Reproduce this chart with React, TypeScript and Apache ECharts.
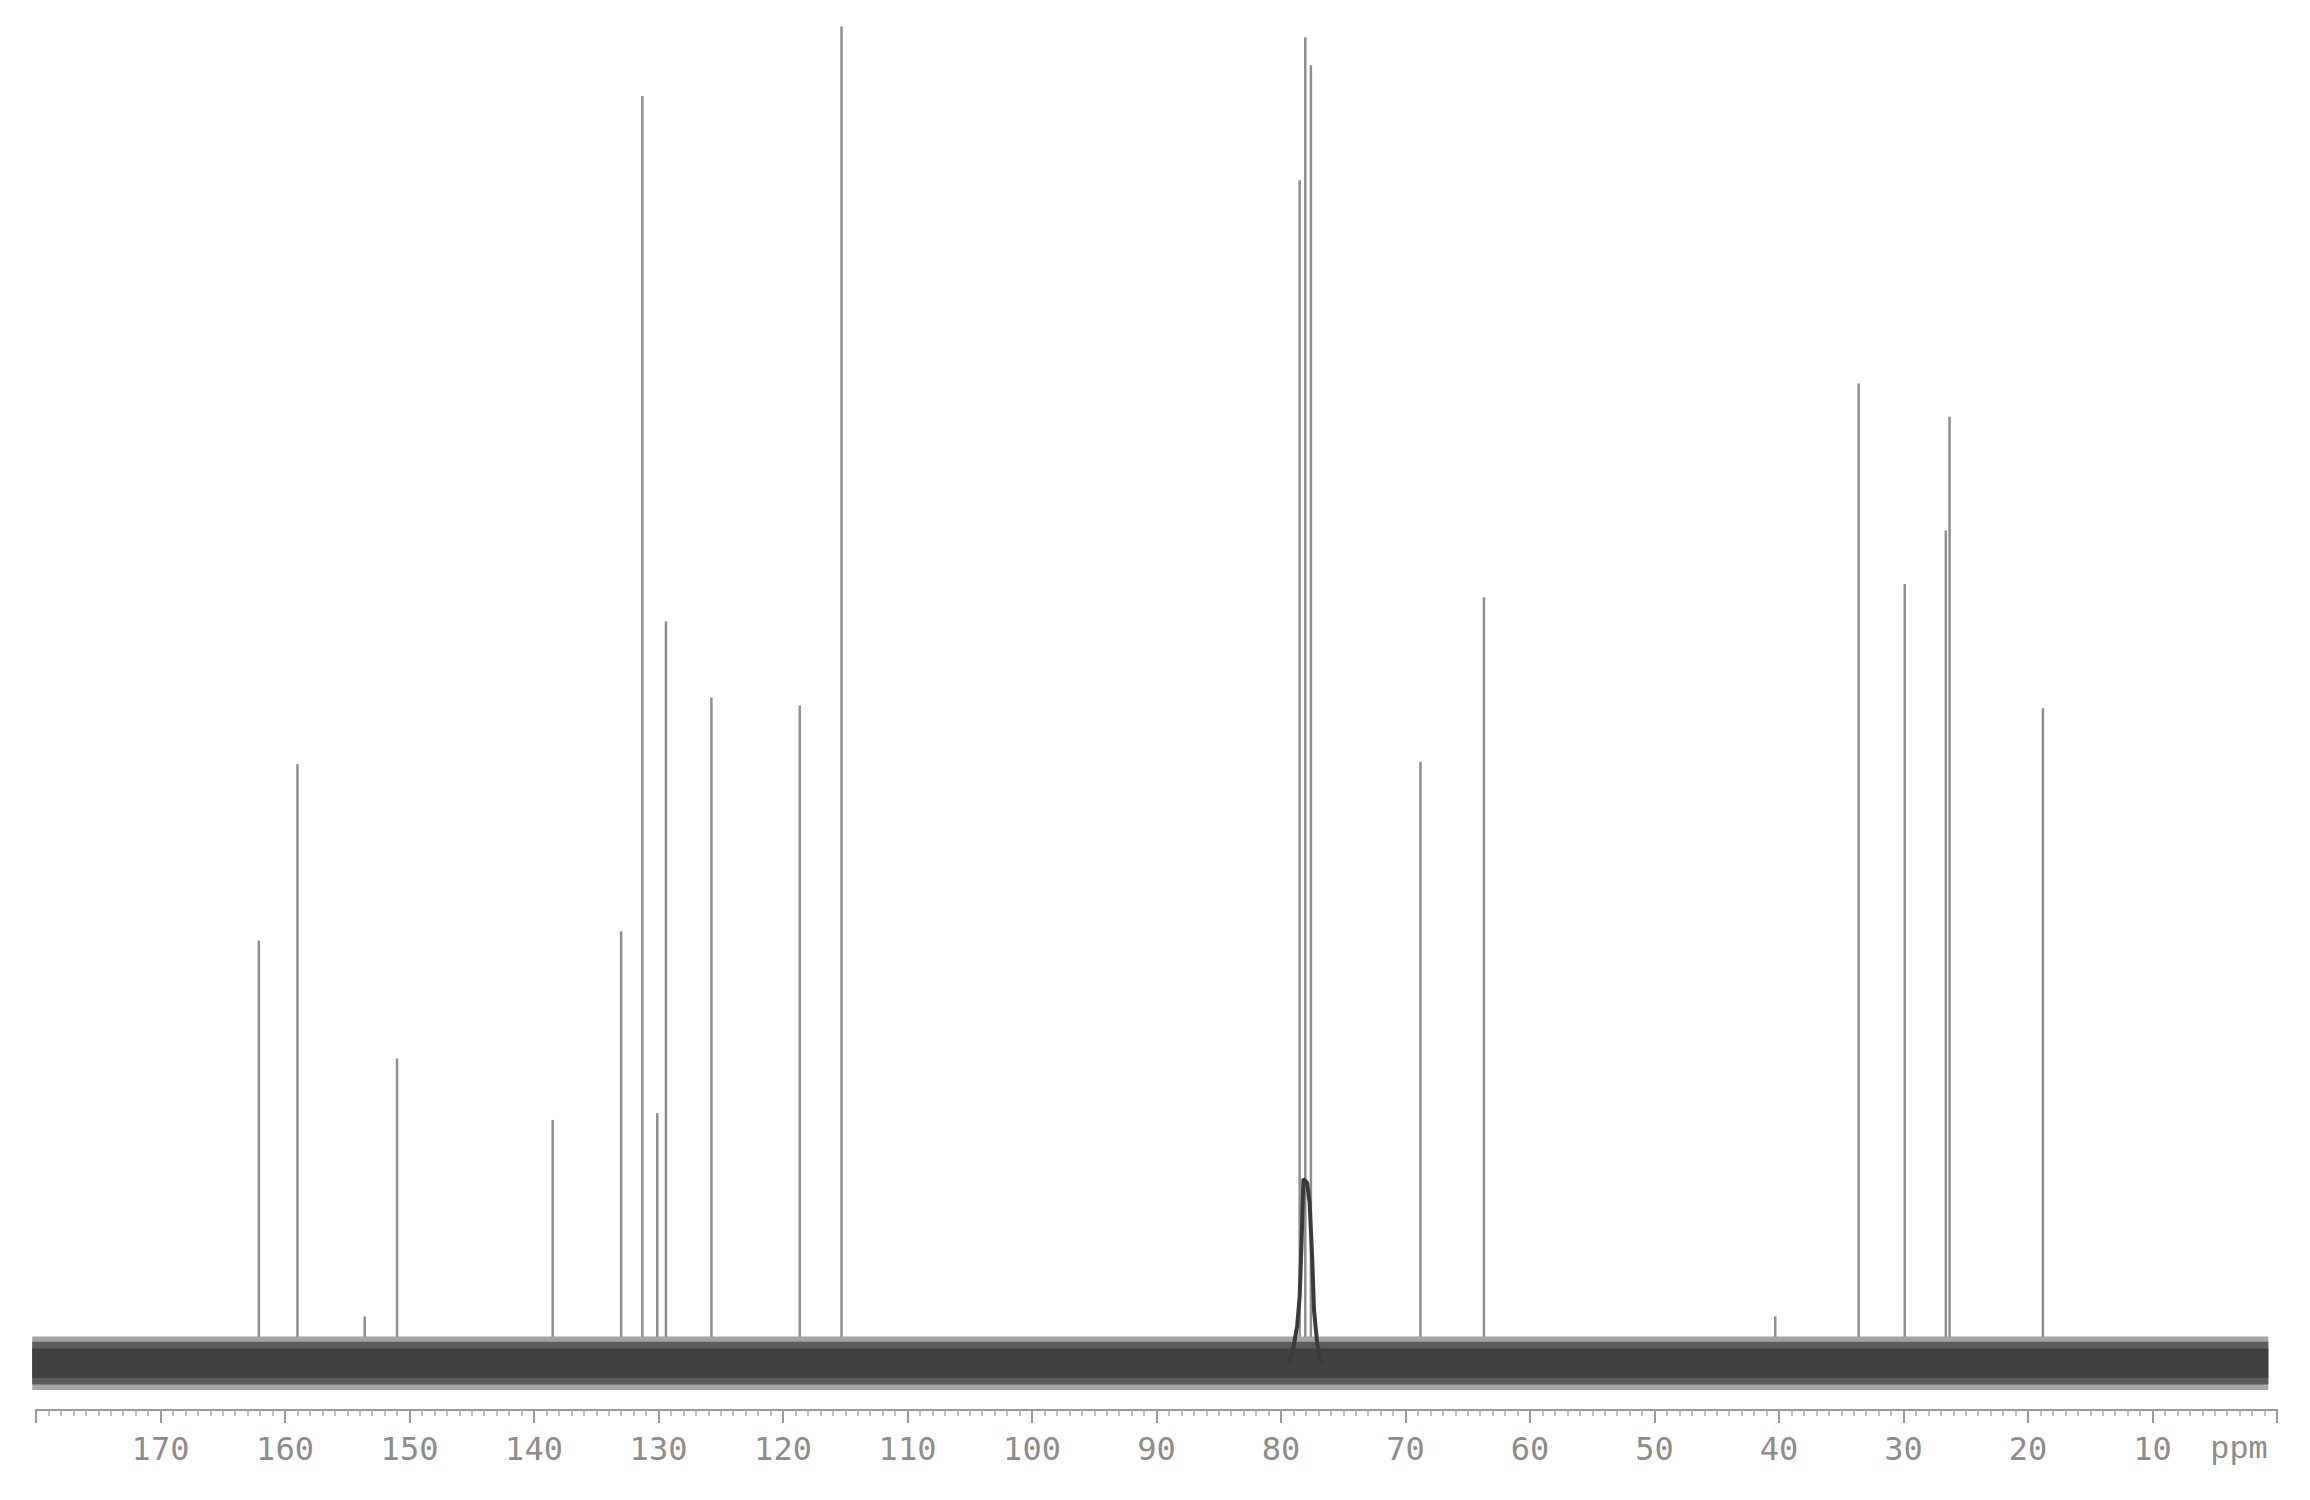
import React, { useEffect, useRef } from "react";
import * as echarts from "echarts";

// chemical shifts (ppm) and relative intensities of the sharp resonances
const peakShift = [162.1, 159.0, 153.6, 151.0, 138.5, 133.0, 131.3, 130.1, 129.4, 125.75, 118.65, 115.3, 78.5, 78.05, 77.6, 68.8, 63.7, 40.3, 33.6, 29.9, 26.6, 26.3, 18.8];
const peakIntensity = [31.6, 44.8, 3.5, 22.8, 18.2, 32.3, 94.8, 18.7, 55.5, 49.8, 49.2, 100, 88.5, 99.2, 97.1, 45.0, 57.3, 3.5, 73.3, 58.3, 62.3, 70.8, 49.0];

// broad base of the CDCl3 solvent signal
const solventShift = [79.4, 79.0, 78.7, 78.5, 78.35, 78.2, 77.9, 77.7, 77.5, 77.35, 77.1, 76.8];
const solventIntensity = [0, 1.2, 2.8, 5, 9, 13.8, 13.5, 12, 8, 4, 1.5, 0];

// baseline noise band: shift range and amplitude (outer, middle, inner)
const noiseRange = [180.3, 0.7];
const noiseOuter = [-2.0, 2.0];
const noiseMiddle = [-1.6, 1.6];
const noiseInner = [-1.1, 1.1];

// axis
const axisMin = 0;
const axisMax = 180;
const axisStep = 10;
const unitLabel = "ppm";

export default function App() {
  const ref = useRef<HTMLDivElement>(null);
  useEffect(() => {
    if (!ref.current) return;
    const chart = echarts.init(ref.current, undefined, { renderer: "svg" });

    const bandItem = (color: string) => (params: any, api: any) => {
      const a = api.coord([api.value(0), api.value(3)]);
      const b = api.coord([api.value(1), api.value(2)]);
      return {
        type: "rect",
        shape: { x: Math.min(a[0], b[0]), y: a[1], width: Math.abs(b[0] - a[0]), height: b[1] - a[1] },
        style: { fill: color },
      };
    };

    chart.setOption({
      animation: false,
      backgroundColor: "#ffffff",
      grid: { left: 28, right: 25, top: 18.5, bottom: 82 },
      xAxis: {
        type: "value",
        inverse: true,
        min: axisMin,
        max: axisMax,
        interval: axisStep,
        axisLine: { show: true, onZero: false, lineStyle: { color: "#9a9a9a", width: 2 } },
        axisTick: { show: true, length: 13, lineStyle: { color: "#9a9a9a", width: 2 } },
        minorTick: { show: true, splitNumber: 10, length: 6, lineStyle: { color: "#a8a8a8", width: 1.5 } },
        splitLine: { show: false },
        axisLabel: {
          margin: 23,
          color: "#8c8c8c",
          fontSize: 32,
          fontFamily: "DejaVu Sans Mono",
          formatter: (v: number) => {
            if (v === axisMax) return "";
            if (v === axisMin) return "{u|" + unitLabel + "}";
            return String(v);
          },
          rich: {
            u: { fontSize: 32, color: "#8c8c8c", fontFamily: "Liberation Mono", padding: [0, 76, 0, 0] },
          },
        },
      },
      yAxis: {
        type: "value",
        min: -3.5,
        max: 100,
        show: false,
        splitLine: { show: false },
      },
      series: [
        {
          type: "custom",
          name: "peaks",
          z: 2,
          renderItem: (params: any, api: any) => {
            const s = api.coord([api.value(0), 0]);
            const e = api.coord([api.value(0), api.value(1)]);
            return {
              type: "line",
              shape: { x1: s[0], y1: s[1], x2: e[0], y2: e[1] },
              style: { stroke: "#8e8e8e", lineWidth: 2.5 },
            };
          },
          data: peakShift.map((p, i) => [p, peakIntensity[i]]),
        },
        {
          type: "custom",
          name: "noiseOuter",
          z: 3,
          renderItem: bandItem("#a4a4a4"),
          data: [[noiseRange[0], noiseRange[1], noiseOuter[0], noiseOuter[1]]],
        },
        {
          type: "custom",
          name: "noiseMiddle",
          z: 4,
          renderItem: bandItem("#5c5c5c"),
          data: [[noiseRange[0], noiseRange[1], noiseMiddle[0], noiseMiddle[1]]],
        },
        {
          type: "custom",
          name: "noiseInner",
          z: 5,
          renderItem: bandItem("#404040"),
          data: [[noiseRange[0], noiseRange[1], noiseInner[0], noiseInner[1]]],
        },
        {
          type: "line",
          name: "solvent",
          z: 6,
          showSymbol: false,
          lineStyle: { color: "#3a3a3a", width: 4 },
          data: solventShift.map((p, i) => [p, solventIntensity[i]]),
        },
      ],
    });
    return () => chart.dispose();
  }, []);
  return <div ref={ref} style={{ width: 2294, height: 1484 }} />;
}
